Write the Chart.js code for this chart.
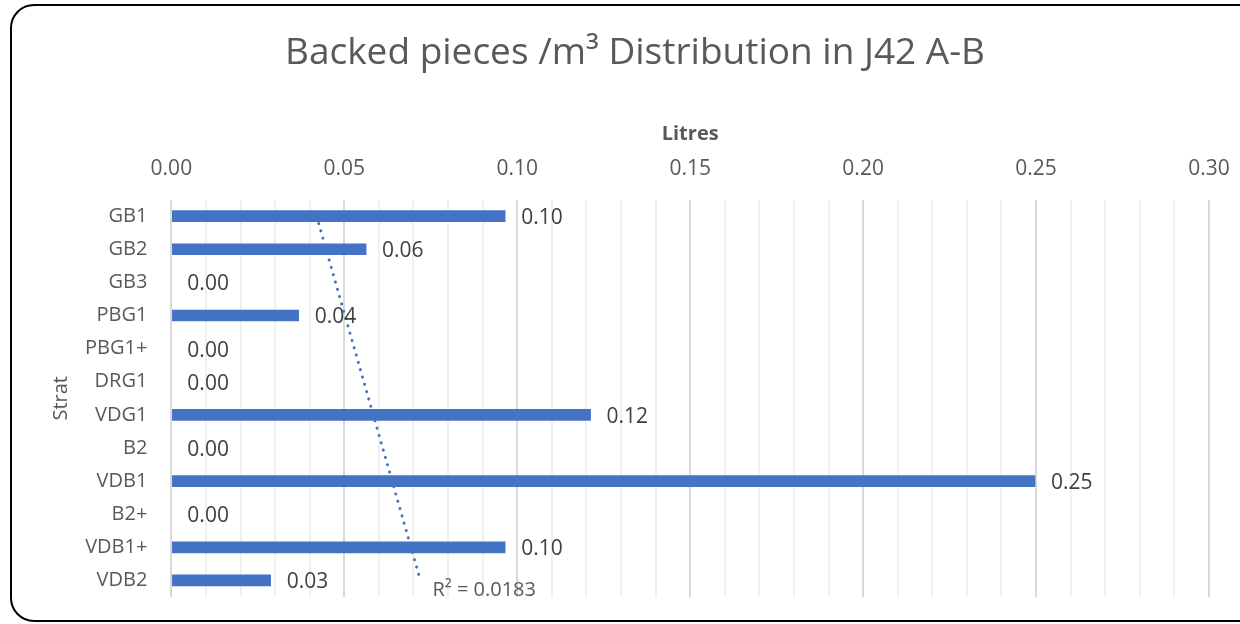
<!DOCTYPE html>
<html lang="en">
<head>
    <meta charset="UTF-8">
    <title>Backed pieces /m³ Distribution in J42 A-B</title>
    <script src="https://cdn.jsdelivr.net/npm/chart.js"></script>
    <style>
        body {
            margin: 0;
            width: 1240px;
            height: 624px;
            overflow: hidden;
            background: #fff;
            font-family: "Open Sans", sans-serif;
        }
        .frame {
            position: absolute;
            left: 10px;
            top: 4px;
            width: 1250px;
            height: 614px;
            border: 2px solid #000;
            border-radius: 24px;
            background: #fff;
        }
        canvas {
            position: absolute;
            left: 0;
            top: 0;
        }
    </style>
</head>
<body>

<div class="frame"></div>
<canvas id="stratChart" width="1240" height="624"></canvas>

<script>
    // Strat categories, top to bottom
    const strats = ['GB1', 'GB2', 'GB3', 'PBG1', 'PBG1+', 'DRG1', 'VDG1', 'B2', 'VDB1', 'B2+', 'VDB1+', 'VDB2'];
    // Backed pieces per m3 (litres axis)
    const litres = [0.0965, 0.0563, 0, 0.0368, 0, 0, 0.1212, 0, 0.2497, 0, 0.0965, 0.0287];
    // Linear trendline ends (first and last strat)
    const trendStart = 0.042;
    const trendEnd = 0.072;
    const rSquaredText = 'R² = 0.0183';

    const trendData = strats.map((s, i) => i === 0 ? trendStart : (i === strats.length - 1 ? trendEnd : null));

    // draws value labels beside each bar and the R² note
    const labelPlugin = {
        id: 'barLabels',
        afterDatasetsDraw(chart) {
            const ctx = chart.ctx;
            const xs = chart.scales.x;
            const meta = chart.getDatasetMeta(0);
            ctx.save();
            ctx.font = '21px "Open Sans", sans-serif';
            ctx.fillStyle = '#404040';
            ctx.textAlign = 'left';
            ctx.textBaseline = 'middle';
            meta.data.forEach((bar, i) => {
                const x = xs.getPixelForValue(litres[i]) + 16;
                ctx.fillText(litres[i].toFixed(2), x, bar.y + 2);
            });
            const tMeta = chart.getDatasetMeta(1);
            const last = tMeta.data[strats.length - 1];
            ctx.font = '20px "Open Sans", sans-serif';
            ctx.fillStyle = '#595959';
            ctx.fillText(rSquaredText, last.x + 12, last.y + 10);
            ctx.restore();
        }
    };

    const ctx = document.getElementById('stratChart').getContext('2d');
    new Chart(ctx, {
        data: {
            labels: strats,
            datasets: [{
                type: 'bar',
                label: 'Litres',
                data: litres,
                backgroundColor: c => c.raw === 0 ? 'rgba(0,0,0,0)' : '#4472C4',
                barThickness: 11,
                order: 1
            }, {
                type: 'line',
                label: 'Linear trend',
                data: trendData,
                spanGaps: true,
                borderColor: '#4472C4',
                borderWidth: 3,
                borderDash: [0.1, 7.5],
                borderCapStyle: 'round',
                pointRadius: 0,
                fill: false,
                order: 0
            }]
        },
        options: {
            indexAxis: 'y',
            responsive: false,
            animation: false,
            layout: {
                padding: { top: 18, left: 30, right: 0, bottom: 27 }
            },
            plugins: {
                legend: { display: false },
                tooltip: { enabled: false },
                title: {
                    display: true,
                    text: 'Backed pieces /m³ Distribution in J42 A-B',
                    color: '#595959',
                    font: { family: 'Open Sans', size: 37, weight: 'normal' },
                    padding: { top: 13, bottom: 47 }
                }
            },
            scales: {
                x: {
                    position: 'top',
                    min: 0,
                    max: 0.3,
                    afterFit: function(scale) {
                        // keep the right edge of the plot where the reference has it
                        scale.paddingRight = 31;
                    },
                    title: {
                        display: true,
                        text: 'Litres',
                        color: '#595959',
                        font: { family: 'Open Sans', size: 20, weight: 'bold' },
                        padding: { top: 0, bottom: -8 }
                    },
                    ticks: {
                        stepSize: 0.01,
                        autoSkip: false,
                        maxRotation: 0,
                        padding: 18,
                        color: '#595959',
                        font: { family: 'Open Sans', size: 21 },
                        callback: function(value) {
                            const hundredths = Math.round(value * 100);
                            return hundredths % 5 === 0 ? (hundredths / 100).toFixed(2) : '';
                        }
                    },
                    grid: {
                        drawTicks: false,
                        lineWidth: 2,
                        color: function(c) {
                            const hundredths = Math.round(c.tick.value * 100);
                            return hundredths % 5 === 0 ? '#d9d9d9' : '#f0f0f0';
                        }
                    },
                    border: { display: false }
                },
                y: {
                    afterFit: function(scale) {
                        scale.paddingBottom = 0;
                    },
                    title: {
                        display: true,
                        text: 'Strat',
                        color: '#595959',
                        font: { family: 'Open Sans', size: 20 },
                        padding: { top: 19, bottom: -4 }
                    },
                    ticks: {
                        color: '#595959',
                        padding: 16,
                        font: { family: 'Open Sans', size: 20 }
                    },
                    grid: { display: false },
                    border: { display: false }
                }
            }
        },
        plugins: [labelPlugin]
    });
</script>

</body>
</html>
